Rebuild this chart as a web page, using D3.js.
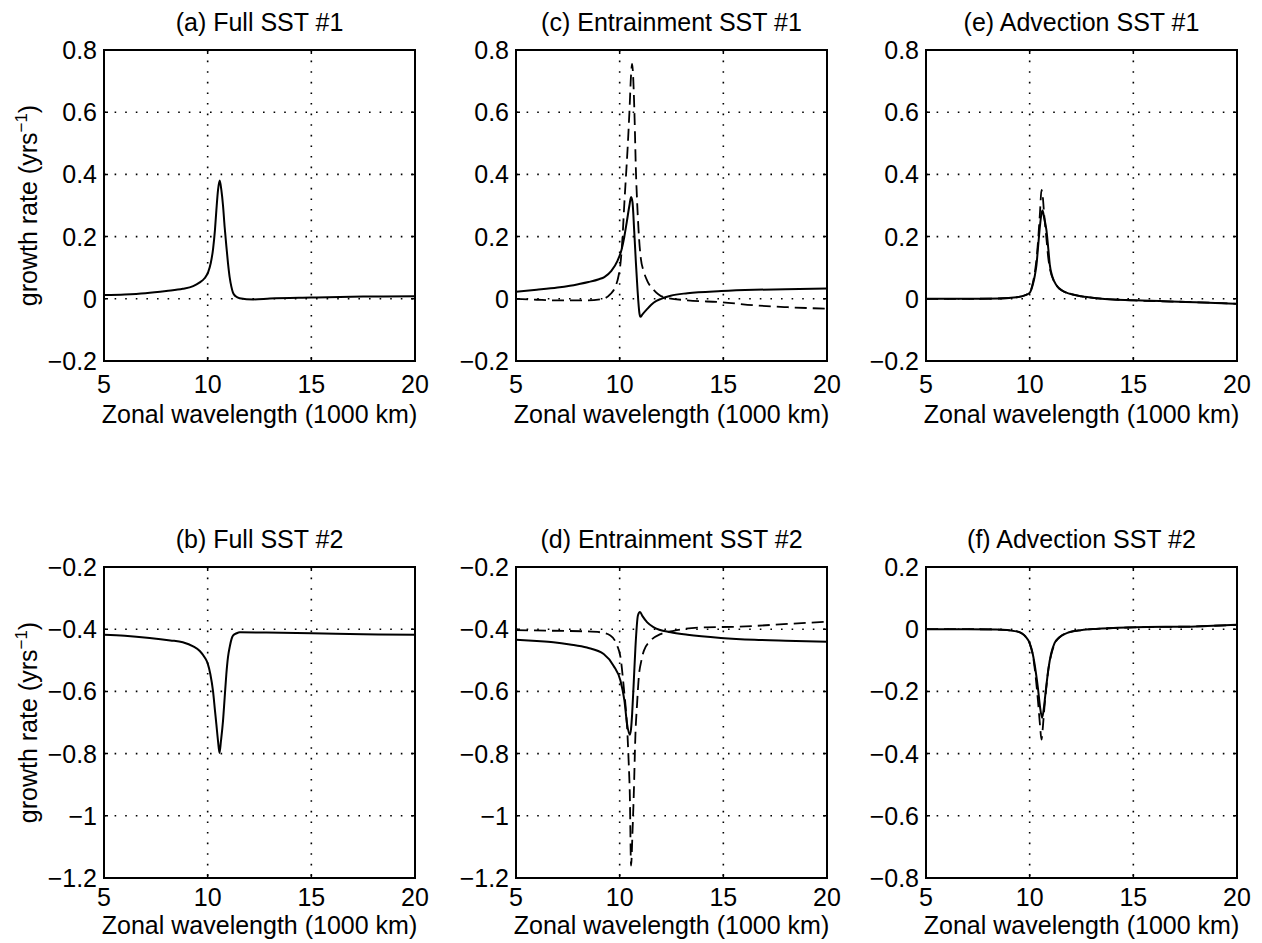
<!DOCTYPE html>
<html>
<head>
<meta charset="utf-8">
<title>Growth rate vs zonal wavelength</title>
<script src="https://d3js.org/d3.v7.min.js"></script>
<style>
  body { margin: 0; background: #fff; }
  text { font-family: "Liberation Sans", Arial, Helvetica, sans-serif; fill: #000; }
</style>
</head>
<body>
<div id="chart"></div>
<script>

// ---- data ----
var xTicks = [5, 10, 15, 20];
var xGrid = [10, 15];

var yTicksTop = [0.8, 0.6, 0.4, 0.2, 0, -0.2];
var yTicksBD = [-0.2, -0.4, -0.6, -0.8, -1, -1.2];
var yTicksF = [0.2, 0, -0.2, -0.4, -0.6, -0.8];

var titles = ["(a) Full SST #1", "(c) Entrainment SST #1", "(e) Advection SST #1",
              "(b) Full SST #2", "(d) Entrainment SST #2", "(f) Advection SST #2"];

// (a) full SST #1
var fullSST1 = [[5,0.012],[6,0.014],[7,0.018],[8,0.025],[8.8,0.032],[9.3,0.041],[9.6,0.052],[9.85,0.066],
  [10.02,0.085],[10.15,0.115],[10.26,0.16],[10.35,0.22],[10.42,0.285],[10.5,0.35],[10.58,0.38],[10.66,0.35],
  [10.74,0.30],[10.82,0.23],[10.9,0.17],[10.98,0.115],[11.06,0.07],[11.14,0.04],[11.22,0.02],[11.35,0.008],
  [11.54,0.002],[12.2,-0.002],[13,0.001],[15,0.004],[17.5,0.007],[20,0.008]];

// (c) entrainment SST #1
var entrain1Solid = [[5,0.023],[6,0.029],[7,0.036],[7.6,0.042],[8,0.047],[8.5,0.054],[9,0.063],[9.26,0.07],
  [9.6,0.09],[9.9,0.123],[10.1,0.16],[10.22,0.198],[10.35,0.25],[10.47,0.30],[10.55,0.327],[10.62,0.31],
  [10.7,0.22],[10.78,0.12],[10.86,0.03],[10.95,-0.045],[11.0,-0.058],[11.1,-0.05],[11.3,-0.035],[11.65,-0.012],
  [12.0,0.0],[12.46,0.01],[13.27,0.018],[14.9,0.025],[16.5,0.029],[18,0.031],[20,0.033]];
var entrain1Dash = [[5,0],[6,-0.003],[7,-0.005],[8.4,-0.005],[9.2,0.0],[9.55,0.015],[9.8,0.04],[9.95,0.075],
  [10.05,0.12],[10.14,0.2],[10.22,0.3],[10.3,0.39],[10.38,0.48],[10.47,0.6],[10.55,0.72],[10.6,0.755],
  [10.66,0.7],[10.72,0.58],[10.78,0.42],[10.85,0.3],[10.93,0.2],[11.02,0.13],[11.15,0.09],[11.33,0.058],
  [11.65,0.028],[12.1,0.006],[13.27,-0.005],[14.9,-0.011],[16.5,-0.021],[18.1,-0.027],[20,-0.032]];

// (e) advection SST #1
var advect1Solid = [[5,0],[7,0],[8.5,0.001],[9.37,0.005],[9.8,0.012],[10.01,0.02],[10.15,0.045],[10.25,0.075],
  [10.33,0.11],[10.41,0.17],[10.49,0.23],[10.56,0.27],[10.62,0.284],[10.7,0.26],[10.81,0.22],[10.9,0.16],
  [10.97,0.11],[11.1,0.07],[11.3,0.043],[11.6,0.025],[11.94,0.016],[12.5,0.008],[13.2,0.002],[15.07,-0.005],
  [18,-0.011],[20,-0.016]];
var advect1Dash = [[5,0],[7,0],[8.5,0.001],[9.4,0.005],[9.8,0.012],[10.02,0.022],[10.15,0.05],[10.26,0.09],
  [10.35,0.14],[10.43,0.21],[10.5,0.28],[10.57,0.35],[10.63,0.33],[10.7,0.27],[10.8,0.2],[10.9,0.13],
  [11.0,0.09],[11.15,0.06],[11.35,0.038],[11.6,0.025],[12,0.015],[12.5,0.008],[13.2,0.002],[15,-0.005],
  [18,-0.011],[20,-0.016]];

// (b) full SST #2
var fullSST2 = [[5,-0.418],[6,-0.421],[7.2,-0.428],[8.2,-0.436],[8.8,-0.442],[9.3,-0.455],[9.62,-0.47],
  [9.85,-0.49],[10.0,-0.51],[10.13,-0.545],[10.26,-0.6],[10.35,-0.66],[10.42,-0.706],[10.5,-0.76],[10.57,-0.798],
  [10.64,-0.76],[10.74,-0.695],[10.82,-0.62],[10.9,-0.545],[10.98,-0.49],[11.07,-0.455],[11.15,-0.432],
  [11.23,-0.42],[11.4,-0.413],[11.55,-0.41],[12.84,-0.411],[15,-0.413],[17.5,-0.416],[20,-0.418]];

// (d) entrainment SST #2
var entrain2Solid = [[5,-0.434],[6,-0.438],[6.8,-0.442],[7.6,-0.449],[8.42,-0.459],[9.23,-0.48],[9.71,-0.518],
  [10.04,-0.566],[10.23,-0.63],[10.36,-0.706],[10.49,-0.739],[10.55,-0.72],[10.6,-0.674],[10.68,-0.57],
  [10.76,-0.459],[10.88,-0.356],[10.98,-0.345],[11.1,-0.358],[11.33,-0.378],[11.65,-0.394],[12.46,-0.41],
  [13.27,-0.418],[14.88,-0.428],[16.5,-0.434],[18,-0.437],[20,-0.44]];
var entrain2Dash = [[5,-0.403],[6.8,-0.405],[8.4,-0.407],[9.07,-0.41],[9.55,-0.42],[9.88,-0.453],[10.04,-0.49],
  [10.2,-0.588],[10.3,-0.66],[10.36,-0.717],[10.43,-0.82],[10.49,-0.933],[10.55,-1.16],[10.62,-1.05],
  [10.68,-0.933],[10.76,-0.739],[10.84,-0.64],[10.92,-0.556],[11.05,-0.5],[11.17,-0.469],[11.49,-0.437],
  [11.97,-0.416],[12.6,-0.405],[14.07,-0.394],[15.7,-0.392],[18.1,-0.383],[20,-0.376]];

// (f) advection SST #2
var advect2Solid = [[5,0],[7,0],[8.4,-0.001],[9.36,-0.007],[9.83,-0.026],[10.0,-0.045],[10.15,-0.08],
  [10.3,-0.14],[10.4,-0.19],[10.5,-0.25],[10.6,-0.285],[10.7,-0.245],[10.79,-0.19],[10.9,-0.13],[11.03,-0.08],
  [11.2,-0.045],[11.43,-0.026],[11.9,-0.01],[12.5,-0.003],[13.2,0.001],[15.04,0.006],[18,0.009],[20,0.014]];
var advect2Dash = [[5,0],[7,0],[8.4,-0.001],[9.4,-0.007],[9.85,-0.027],[10.02,-0.05],[10.17,-0.09],
  [10.3,-0.16],[10.4,-0.23],[10.5,-0.31],[10.57,-0.355],[10.63,-0.32],[10.7,-0.26],[10.8,-0.19],[10.9,-0.13],
  [11.03,-0.085],[11.2,-0.048],[11.43,-0.027],[11.9,-0.01],[12.5,-0.003],[13.2,0.001],[15,0.006],[18,0.009],[20,0.014]];

// ---- layout ----
var W = 1262, H = 943;
var colLeft = [104, 516, 926];
var rowTop = [50, 567];
var pw = 311, ph = 311;
var fs = 25;
var xTickOffset = [32, 28];    // baseline of x tick labels below each row
var xLabelOffset = [62, 56];   // baseline of "Zonal wavelength" below each row

var panels = [
  {col: 0, row: 0, title: titles[0], yTicks: yTicksTop, solid: fullSST1, dash: null},
  {col: 1, row: 0, title: titles[1], yTicks: yTicksTop, solid: entrain1Solid, dash: entrain1Dash},
  {col: 2, row: 0, title: titles[2], yTicks: yTicksTop, solid: advect1Solid, dash: advect1Dash},
  {col: 0, row: 1, title: titles[3], yTicks: yTicksBD, solid: fullSST2, dash: null},
  {col: 1, row: 1, title: titles[4], yTicks: yTicksBD, solid: entrain2Solid, dash: entrain2Dash},
  {col: 2, row: 1, title: titles[5], yTicks: yTicksF, solid: advect2Solid, dash: advect2Dash}
];

var svg = d3.select("#chart")
  .append("svg")
    .attr("width", W)
    .attr("height", H);

function fmt(v) {
  var s = String(Math.abs(+v.toFixed(1)));
  return v < 0 ? "\u2212" + s : s;
}

panels.forEach(function(p) {
  var g = svg.append("g")
    .attr("transform", "translate(" + colLeft[p.col] + "," + rowTop[p.row] + ")");

  var x = d3.scaleLinear().domain([5, 20]).range([0, pw]);
  var y = d3.scaleLinear().domain(d3.extent(p.yTicks)).range([ph, 0]);

  // dotted grid
  g.selectAll(".gx").data(xGrid).enter().append("line")
    .attr("x1", function(d) { return x(d); }).attr("x2", function(d) { return x(d); })
    .attr("y1", 0).attr("y2", ph)
    .attr("stroke", "#000").attr("stroke-width", 1.6)
    .attr("stroke-dasharray", "1.6,9");
  var yGrid = p.yTicks.slice(1, -1);
  g.selectAll(".gy").data(yGrid).enter().append("line")
    .attr("x1", 0).attr("x2", pw)
    .attr("y1", function(d) { return y(d); }).attr("y2", function(d) { return y(d); })
    .attr("stroke", "#000").attr("stroke-width", 1.6)
    .attr("stroke-dasharray", "1.6,9");

  // curves
  var line = d3.line()
    .x(function(d) { return x(d[0]); })
    .y(function(d) { return y(d[1]); })
    .curve(d3.curveMonotoneX);

  if (p.dash) {
    g.append("path")
      .datum(p.dash)
      .attr("fill", "none")
      .attr("stroke", "#000")
      .attr("stroke-width", 1.8)
      .attr("stroke-dasharray", "12,6")
      .attr("d", line);
  }
  g.append("path")
    .datum(p.solid)
    .attr("fill", "none")
    .attr("stroke", "#000")
    .attr("stroke-width", 2)
    .attr("d", line);

  // box
  g.append("rect")
    .attr("x", 0).attr("y", 0).attr("width", pw).attr("height", ph)
    .attr("fill", "none").attr("stroke", "#000").attr("stroke-width", 2);

  // inward ticks on all four sides
  var tl = 4;
  g.selectAll(".tb").data(xTicks).enter().append("path")
    .attr("d", function(d) { return "M" + x(d) + "," + ph + "v" + (-tl) + "M" + x(d) + ",0v" + tl; })
    .attr("stroke", "#000").attr("stroke-width", 1.5);
  g.selectAll(".tl").data(p.yTicks).enter().append("path")
    .attr("d", function(d) { return "M0," + y(d) + "h" + tl + "M" + pw + "," + y(d) + "h" + (-tl); })
    .attr("stroke", "#000").attr("stroke-width", 1.5);

  // tick labels
  g.selectAll(".xl").data(xTicks).enter().append("text")
    .attr("x", function(d) { return x(d); })
    .attr("y", ph + xTickOffset[p.row])
    .attr("text-anchor", "middle")
    .attr("font-size", fs)
    .text(function(d) { return d; });
  g.selectAll(".yl").data(p.yTicks).enter().append("text")
    .attr("x", -7)
    .attr("y", function(d) { return y(d); })
    .attr("dy", "0.36em")
    .attr("text-anchor", "end")
    .attr("font-size", fs)
    .text(function(d) { return fmt(d); });

  // title
  g.append("text")
    .attr("x", pw / 2).attr("y", -19)
    .attr("text-anchor", "middle")
    .attr("font-size", fs)
    .text(p.title);

  // x label
  g.append("text")
    .attr("x", pw / 2).attr("y", ph + xLabelOffset[p.row])
    .attr("text-anchor", "middle")
    .attr("font-size", fs)
    .text("Zonal wavelength (1000 km)");

  // y label on the left column
  if (p.col === 0) {
    var yl = g.append("text")
      .attr("transform", "translate(" + (37 - colLeft[0]) + "," + (ph / 2) + ") rotate(-90)")
      .attr("text-anchor", "middle")
      .attr("font-size", fs);
    yl.append("tspan").text("growth rate (yrs");
    yl.append("tspan").attr("dy", -10).attr("font-size", 17).text("\u22121");
    yl.append("tspan").attr("dy", 10).text(")");
  }
});

</script>
</body>
</html>
